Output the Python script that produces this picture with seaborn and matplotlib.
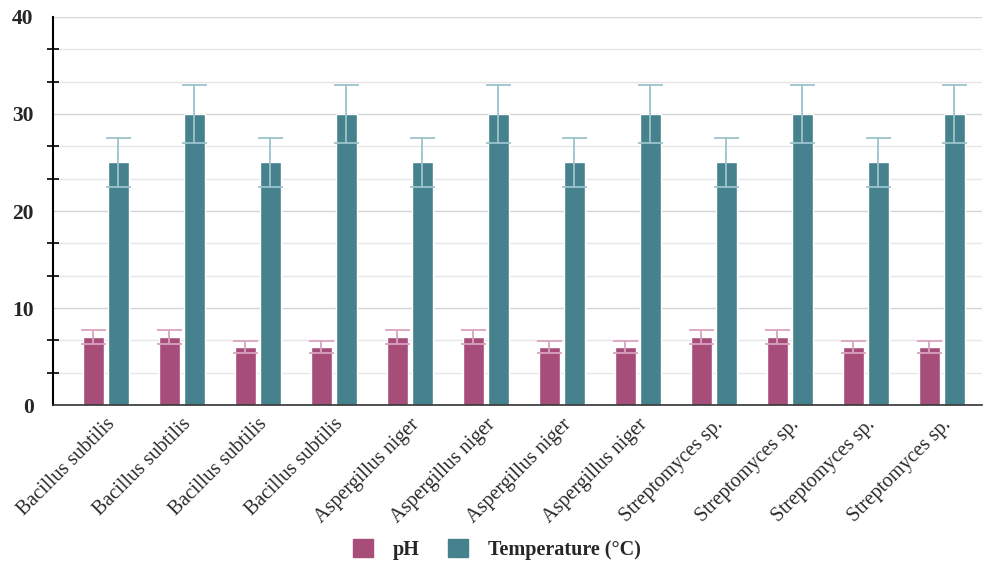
import matplotlib
matplotlib.use("Agg")
import matplotlib.pyplot as plt
import seaborn as sns
import pandas as pd
from matplotlib.ticker import MultipleLocator
from matplotlib.patches import Patch

# datos
organismos = ["Bacillus subtilis", "Bacillus subtilis", "Bacillus subtilis", "Bacillus subtilis",
              "Aspergillus niger", "Aspergillus niger", "Aspergillus niger", "Aspergillus niger",
              "Streptomyces sp.", "Streptomyces sp.", "Streptomyces sp.", "Streptomyces sp."]
ph = [7, 7, 6, 6, 7, 7, 6, 6, 7, 7, 6, 6]
ph_err = [0.7, 0.7, 0.6, 0.6, 0.7, 0.7, 0.6, 0.6, 0.7, 0.7, 0.6, 0.6]
temperatura = [25, 30, 25, 30, 25, 30, 25, 30, 25, 30, 25, 30]
temp_err = [2.5, 3, 2.5, 3, 2.5, 3, 2.5, 3, 2.5, 3, 2.5, 3]
series = ["pH", "Temperature (°C)"]

colores = ["#A64D79", "#46818E"]
colores_err = ["#D9A3C0", "#9DC3CB"]

# un id por barra para que las etiquetas repetidas no se fusionen
ids = [f"{i}" for i in range(len(organismos))]
df = pd.DataFrame({
    "id": ids * 2,
    "valor": ph + temperatura,
    "serie": [series[0]] * len(ph) + [series[1]] * len(temperatura),
})

sns.set_style("white")
plt.rcParams["font.family"] = ["Liberation Serif", "DejaVu Serif"]

fig = plt.figure(figsize=(9.84, 5.62), dpi=100)
ax = fig.add_axes([0.054, 0.279, 0.944, 0.691])

sns.barplot(data=df, x="id", y="valor", hue="serie", palette=colores, saturation=1,
            width=0.66, gap=0.16, errorbar=None, legend=False, ax=ax, zorder=2)

# barras de error en el color claro de cada serie
for cont, vals, errs, c in zip(ax.containers, [ph, temperatura], [ph_err, temp_err], colores_err):
    xs = [p.get_x() + p.get_width() / 2 for p in cont.patches]
    ax.errorbar(xs, vals, yerr=errs, fmt="none", ecolor=c, elinewidth=1.3,
                capsize=9, capthick=1.3, zorder=3)

ax.set_ylim(0, 40)
ax.set_xlim(-0.69, len(organismos) - 0.47)
ax.yaxis.set_major_locator(MultipleLocator(10))
ax.yaxis.set_minor_locator(MultipleLocator(10 / 3))
ax.grid(axis="y", which="major", color="#d4d4d4", linewidth=1, zorder=0)
ax.grid(axis="y", which="minor", color="#e6e6e6", linewidth=1, zorder=0)
ax.set_axisbelow(True)

for s in ["top", "right"]:
    ax.spines[s].set_visible(False)
ax.spines["left"].set_color("black")
ax.spines["left"].set_linewidth(1.5)
ax.spines["bottom"].set_color("#333333")
ax.spines["bottom"].set_linewidth(1.2)

ax.tick_params(axis="y", which="major", direction="inout", length=20, width=1.5, color="black",
               labelsize=15.5, pad=4)
ax.tick_params(axis="y", which="minor", direction="inout", length=9, width=1.2, color="black", left=True)
for lbl in ax.get_yticklabels():
    lbl.set_fontweight("bold")

ax.set_xticks(range(len(organismos)))
ax.set_xticklabels(organismos, rotation=45, ha="right", rotation_mode="anchor",
                   fontsize=14.5, color="#2a2a2a")
ax.tick_params(axis="x", length=0, pad=7)
ax.set_xlabel("")
ax.set_ylabel("")

handles = [Patch(facecolor=c, edgecolor=c, label=s) for c, s in zip(colores, series)]
fig.legend(handles=handles, loc="center", bbox_to_anchor=(0.505, 0.023), ncol=2, frameon=False,
           prop={"weight": "bold", "size": 14.5}, handlelength=1.0, handleheight=1.0,
           columnspacing=1.4, handletextpad=1.0)

fig.savefig("out.png", dpi=100)
